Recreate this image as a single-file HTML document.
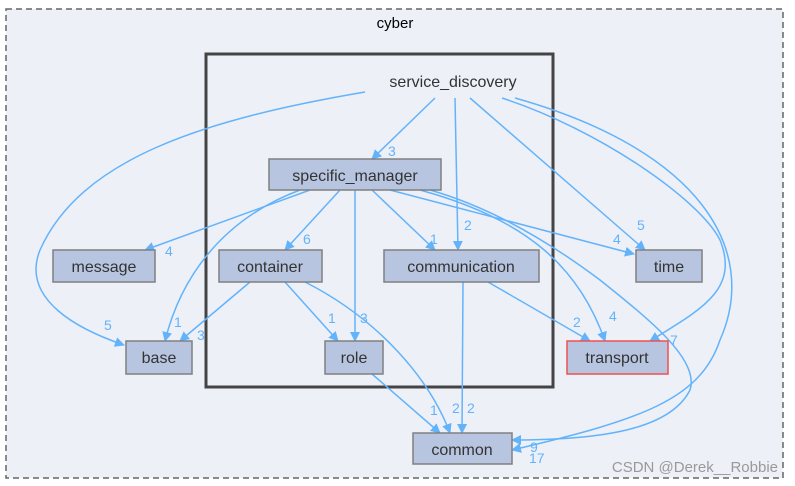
<!DOCTYPE html>
<html><head><meta charset="utf-8"><style>
body{margin:0;background:#fff;}
svg{display:block;font-family:"Liberation Sans",Arial,sans-serif;}
.n{fill:#b7c5e0;stroke:#808080;stroke-width:1.5}
.t{font-size:16px;fill:#333;text-anchor:middle}
.e{fill:none;stroke:#63b3fb;stroke-width:1.5}
.l{font-size:14px;fill:#63b3fb}
</style></head><body>
<svg width="795" height="486" viewBox="0 0 795 486">
<defs><marker id="a" markerWidth="10" markerHeight="10" refX="9" refY="5" orient="auto" markerUnits="userSpaceOnUse"><path d="M0,0 L10,5 L0,10 z" fill="#63b3fb"/></marker></defs>
<rect x="6" y="9" width="777" height="469" fill="#edf0f7" stroke="#666" stroke-width="1.5" stroke-dasharray="6,4"/>
<text x="395" y="28" font-size="15" text-anchor="middle" fill="#000">cyber</text>
<rect x="206" y="54" width="347" height="333" fill="#edf0f7" stroke="#444" stroke-width="3"/>
<text x="453" y="87" class="t" fill="#444">service_discovery</text>
<g class="e" marker-end="url(#a)">
<path d="M365,92 C200,120 80,160 40,250 C20,300 80,330 124,345"/>
<path d="M435,98 L372,159"/>
<path d="M455,98 L458,250"/>
<path d="M470,98 L645,250"/>
<path d="M502,98 C600,130 700,200 720,240 C740,290 700,310 650,341"/>
<path d="M515,98 C700,150 760,250 720,340 C700,400 640,420 512,450"/>
<path d="M310,190 L145,250"/>
<path d="M300,190 C220,220 180,280 165,341"/>
<path d="M340,190 L285,250"/>
<path d="M355,190 L355,341"/>
<path d="M372,190 L435,250"/>
<path d="M390,190 L634,254"/>
<path d="M420,190 C530,220 580,270 605,341"/>
<path d="M430,190 C500,210 560,250 600,280 C650,320 700,360 690,390 C670,430 600,440 512,440"/>
<path d="M250,282 L180,341"/>
<path d="M285,282 L338,341"/>
<path d="M305,282 C380,320 430,380 450,433"/>
<path d="M488,282 L590,341"/>
<path d="M463,282 L462,433"/>
<path d="M372,374 L440,433"/>
</g>
<g class="l">
<text x="388" y="156">3</text><text x="464" y="230">2</text><text x="637" y="230">5</text>
<text x="165" y="256">4</text><text x="303" y="244">6</text><text x="430" y="244">1</text><text x="613" y="244">4</text>
<text x="104" y="330">5</text><text x="174" y="327">1</text><text x="197" y="340">3</text>
<text x="328" y="323">1</text><text x="360" y="323">3</text><text x="573" y="327">2</text><text x="609" y="321">4</text><text x="670" y="345">7</text>
<text x="430" y="415">1</text><text x="452" y="413">2</text><text x="467" y="413">2</text>
<text x="530" y="452">9</text><text x="529" y="463">17</text>
</g>
<rect class="n" x="269" y="159" width="172" height="31"/><text class="t" x="355" y="181">specific_manager</text>
<rect class="n" x="53" y="250" width="102" height="32"/><text class="t" x="104" y="272">message</text>
<rect class="n" x="219" y="250" width="103" height="32"/><text class="t" x="270" y="272">container</text>
<rect class="n" x="384" y="250" width="155" height="32"/><text class="t" x="461" y="272">communication</text>
<rect class="n" x="636" y="250" width="66" height="32"/><text class="t" x="669" y="272">time</text>
<rect class="n" x="126" y="341" width="66" height="33"/><text class="t" x="159" y="363">base</text>
<rect class="n" x="325" y="341" width="58" height="33"/><text class="t" x="354" y="363">role</text>
<rect class="n" x="567" y="341" width="101" height="33" style="stroke:#f05050"/><text class="t" x="617" y="363">transport</text>
<rect class="n" x="413" y="433" width="99" height="31"/><text class="t" x="462" y="455">common</text>
<text x="778" y="472" font-size="15" fill="#999" text-anchor="end">CSDN @Derek__Robbie</text>
</svg>
</body></html>
